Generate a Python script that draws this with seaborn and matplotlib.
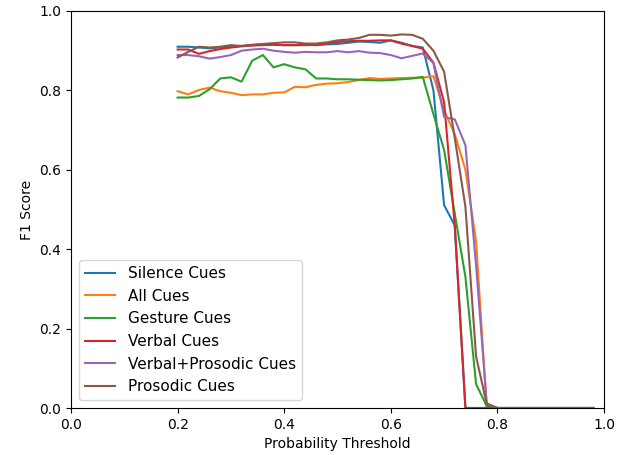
import matplotlib
matplotlib.use("Agg")
import matplotlib.pyplot as plt
import seaborn as sns
import pandas as pd

thresholds = [0.20, 0.22, 0.24, 0.26, 0.28, 0.30, 0.32, 0.34, 0.36, 0.38,
              0.40, 0.42, 0.44, 0.46, 0.48, 0.50, 0.52, 0.54, 0.56, 0.58,
              0.60, 0.62, 0.64, 0.66, 0.68, 0.70, 0.72, 0.74, 0.76, 0.78,
              0.80, 0.82, 0.84, 0.86, 0.88, 0.90, 0.92, 0.94, 0.96, 0.98]

zeros_tail = [0.0, 0.0, 0.0, 0.0, 0.0, 0.0, 0.0, 0.0, 0.0, 0.0]

silence = [0.910, 0.910, 0.908, 0.906, 0.908, 0.910, 0.912, 0.914, 0.916, 0.915,
           0.914, 0.914, 0.915, 0.914, 0.916, 0.917, 0.920, 0.923, 0.922, 0.920,
           0.926, 0.920, 0.912, 0.908, 0.800, 0.511, 0.460, 0.0, 0.0, 0.0] + zeros_tail

all_cues = [0.798, 0.790, 0.801, 0.807, 0.798, 0.794, 0.788, 0.790, 0.790, 0.794,
            0.795, 0.809, 0.808, 0.814, 0.817, 0.818, 0.821, 0.826, 0.831, 0.829,
            0.830, 0.831, 0.832, 0.832, 0.836, 0.750, 0.690, 0.600, 0.420, 0.0] + zeros_tail

gesture = [0.782, 0.782, 0.786, 0.803, 0.830, 0.833, 0.822, 0.875, 0.889, 0.858,
           0.866, 0.858, 0.853, 0.830, 0.830, 0.828, 0.828, 0.827, 0.826, 0.825,
           0.826, 0.828, 0.830, 0.834, 0.740, 0.650, 0.490, 0.330, 0.060, 0.005] + zeros_tail

verbal = [0.903, 0.903, 0.892, 0.899, 0.904, 0.908, 0.911, 0.913, 0.914, 0.915,
          0.914, 0.914, 0.914, 0.915, 0.918, 0.922, 0.924, 0.925, 0.925, 0.926,
          0.926, 0.918, 0.912, 0.905, 0.870, 0.770, 0.460, 0.0, 0.0, 0.0] + zeros_tail

verbal_prosodic = [0.889, 0.889, 0.886, 0.880, 0.884, 0.889, 0.900, 0.903, 0.905, 0.900,
                   0.897, 0.895, 0.897, 0.896, 0.896, 0.899, 0.896, 0.899, 0.895, 0.894,
                   0.889, 0.881, 0.887, 0.893, 0.869, 0.733, 0.727, 0.662, 0.360, 0.012] + zeros_tail

prosodic = [0.883, 0.897, 0.910, 0.908, 0.910, 0.914, 0.912, 0.915, 0.917, 0.919,
            0.921, 0.921, 0.918, 0.918, 0.921, 0.926, 0.928, 0.932, 0.940, 0.940,
            0.938, 0.941, 0.940, 0.930, 0.900, 0.847, 0.680, 0.507, 0.130, 0.010] + zeros_tail

series_names = ["Silence Cues", "All Cues", "Gesture Cues", "Verbal Cues",
                "Verbal+Prosodic Cues", "Prosodic Cues"]
series_values = [silence, all_cues, gesture, verbal, verbal_prosodic, prosodic]

rows = []
for name, vals in zip(series_names, series_values):
    for t, v in zip(thresholds, vals):
        rows.append({"Threshold": t, "F1": v, "Model": name})
df = pd.DataFrame(rows)

fig = plt.figure(figsize=(6.29, 4.55), dpi=100)
ax = fig.add_axes([71 / 629, 1 - 408 / 455, (604 - 71) / 629, (408 - 11) / 455])

sns.lineplot(data=df, x="Threshold", y="F1", hue="Model", hue_order=series_names,
             palette=sns.color_palette("tab10", 6), linewidth=1.5, ax=ax)

ax.set_xlim(0, 1)
ax.set_ylim(0, 1)
ax.set_xlabel("Probability Threshold")
ax.set_ylabel("F1 Score")
handles, labels = ax.get_legend_handles_labels()
ax.legend(handles, labels, loc="lower left", fontsize=11)

fig.savefig("out.png", dpi=100)
